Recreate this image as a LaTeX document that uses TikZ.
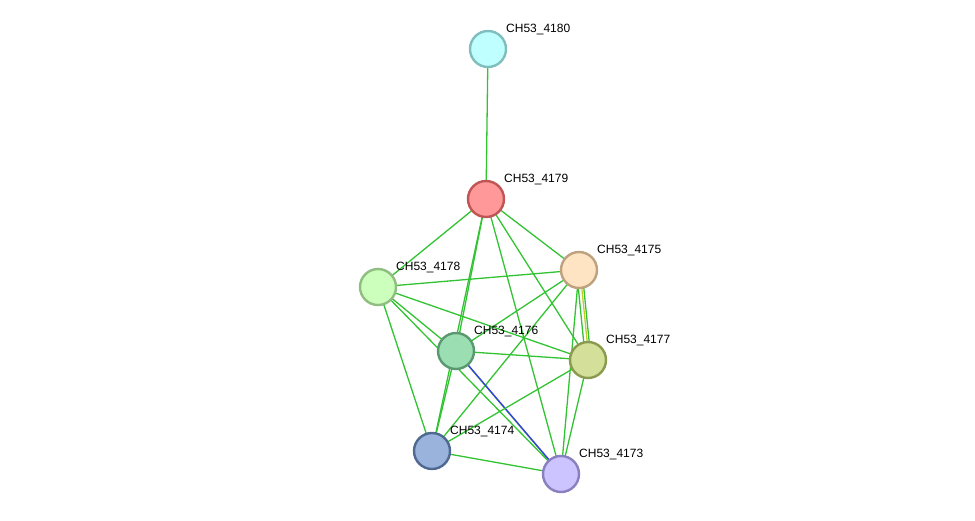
\documentclass[tikz,border=0pt]{standalone}
\usepackage{fontspec}
\setmainfont{Liberation Sans}
\begin{document}
\begin{tikzpicture}[x=1pt,y=-1pt,
  prot/.style={circle,minimum size=36pt,inner sep=0pt,line width=2.4pt},
  lbl/.style={anchor=base west,font=\fontsize{12}{12}\selectfont,inner sep=0pt},
  ge/.style={line width=1.3pt,color={rgb,255:red,50;green,195;blue,50}},
  be/.style={line width=1.3pt,color={rgb,255:red,60;green,60;blue,235}},
  ye/.style={line width=1.3pt,color={rgb,255:red,195;green,205;blue,40}}]
\useasboundingbox (0,0) rectangle (975,520);
\definecolor{f80}{RGB}{192,255,255}\definecolor{b80}{RGB}{128,190,190}
\definecolor{f79}{RGB}{255,153,153}\definecolor{b79}{RGB}{192,85,85}
\definecolor{f75}{RGB}{255,228,196}\definecolor{b75}{RGB}{190,162,127}
\definecolor{f78}{RGB}{204,255,187}\definecolor{b78}{RGB}{143,190,128}
\definecolor{f76}{RGB}{155,222,178}\definecolor{b76}{RGB}{90,152,112}
\definecolor{f77}{RGB}{212,223,153}\definecolor{b77}{RGB}{138,155,80}
\definecolor{f74}{RGB}{153,179,221}\definecolor{b74}{RGB}{80,105,145}
\definecolor{f73}{RGB}{204,196,255}\definecolor{b73}{RGB}{138,128,191}
\coordinate (p80) at (488,49);
\coordinate (p79) at (486,199);
\coordinate (p75) at (579,270);
\coordinate (p78) at (378,287);
\coordinate (p76) at (456,351);
\coordinate (p77) at (588,360);
\coordinate (p74) at (432,451);
\coordinate (p73) at (561,474);
% edges
\draw[ge] (p80) -- (p79);
\draw[ge] (p79) -- (p78);
\draw[ge] (p79) -- (p76);
\draw[ge] (p79) -- (p74);
\draw[ge] (p79) -- (p75);
\draw[ge] (p79) -- (p77);
\draw[ge] (p79) -- (p73);
\draw[ge] (p78) -- (p75);
\draw[ge] (p78) -- (p76);
\draw[ge] (p78) -- (p73);
\draw[ge] (p78) -- (p77);
\draw[ge] (p78) -- (p74);
\draw[ge] (p75) -- (p76);
\draw[ge] (p75) -- (p74);
\draw[ge] ([xshift=-2.5pt]p75) -- ([xshift=-2.5pt]p77);
\draw[ye] ([xshift=1pt]p75) -- ([xshift=1pt]p77);
\draw[ge] ([xshift=3pt]p75) -- ([xshift=3pt]p77);
\draw[ge] (p75) -- (p73);
\draw[ge] (p76) -- (p77);
\draw[ge] (p76) -- (p74);
\draw[ge] ([xshift=-1.5pt,yshift=1.5pt]p76) -- ([xshift=-1.5pt,yshift=1.5pt]p73);
\draw[be] ([xshift=1.5pt,yshift=-1.5pt]p76) -- ([xshift=1.5pt,yshift=-1.5pt]p73);
\draw[ge] (p77) -- (p74);
\draw[ge] (p77) -- (p73);
\draw[ge] (p74) -- (p73);
% nodes
\node[prot,fill=f80,draw=b80] (n80) at (p80) {};
\node[prot,fill=f79,draw=b79] (n79) at (p79) {};
\node[prot,fill=f75,draw=b75] (n75) at (p75) {};
\node[prot,fill=f78,draw=b78] (n78) at (p78) {};
\node[prot,fill=f76,draw=b76] (n76) at (p76) {};
\node[prot,fill=f77,draw=b77] (n77) at (p77) {};
\node[prot,fill=f74,draw=b74] (n74) at (p74) {};
\node[prot,fill=f73,draw=b73] (n73) at (p73) {};
% labels
\node[lbl] (l80) at ([xshift=18pt,yshift=17pt]p80) {CH53\_4180};
\node[lbl] (l79) at ([xshift=18pt,yshift=17pt]p79) {CH53\_4179};
\node[lbl] (l75) at ([xshift=18pt,yshift=17pt]p75) {CH53\_4175};
\node[lbl] (l78) at ([xshift=18pt,yshift=17pt]p78) {CH53\_4178};
\node[lbl] (l76) at ([xshift=18pt,yshift=17pt]p76) {CH53\_4176};
\node[lbl] (l77) at ([xshift=18pt,yshift=17pt]p77) {CH53\_4177};
\node[lbl] (l74) at ([xshift=18pt,yshift=17pt]p74) {CH53\_4174};
\node[lbl] (l73) at ([xshift=18pt,yshift=17pt]p73) {CH53\_4173};
\end{tikzpicture}
\end{document}
